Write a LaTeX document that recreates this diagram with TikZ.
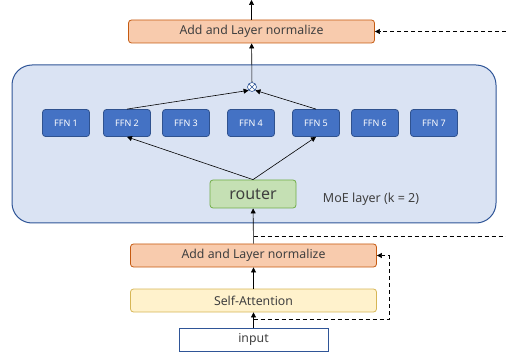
\documentclass[tikz,border=0pt]{standalone}
\usepackage{fontspec}
\setmainfont{Noto Sans}
\usetikzlibrary{arrows.meta}

\definecolor{moefill}{HTML}{DAE3F3}
\definecolor{moeline}{HTML}{2F5597}
\definecolor{ffnfill}{HTML}{4472C4}
\definecolor{ffnline}{HTML}{2F528F}
\definecolor{routerfill}{HTML}{C5E0B4}
\definecolor{routerline}{HTML}{70AD47}
\definecolor{addfill}{HTML}{F8CBAD}
\definecolor{addline}{HTML}{C55A11}
\definecolor{attfill}{HTML}{FFF2CC}
\definecolor{attline}{HTML}{D6B656}
\definecolor{textgray}{HTML}{404040}

\begin{document}
\begin{tikzpicture}[x=1pt, y=-1pt,
    arr/.style={-{Triangle[length=5pt,width=5pt]}, line width=0.6pt},
    res/.style={dashed, dash pattern=on 4pt off 3pt, line width=0.8pt},
    bar/.style={draw, rounded corners=3pt, line width=0.8pt, minimum width=246pt,
      minimum height=23pt, inner sep=0pt, text=textgray, font=\fontsize{12.3}{14}\selectfont},
    ffn/.style={draw=ffnline, fill=ffnfill, rounded corners=3pt, line width=0.8pt,
      minimum width=47pt, minimum height=27pt, inner sep=0pt, text=white,
      font=\fontsize{9}{11}\selectfont}]
  \useasboundingbox (0,0) rectangle (506,358);

  % MoE block
  \node[draw=moeline, fill=moefill, rounded corners=20pt, line width=1pt,
    minimum width=484pt, minimum height=158pt] (moe) at (254,144) {};
  \foreach \i/\x in {1/66, 2/127, 3/186, 4/251, 5/316, 6/375, 7/434} {
      \node[ffn] (ffn\i) at (\x,123) {FFN \i};
  }
  \node[draw=routerline, fill=routerfill, rounded corners=3pt, line width=0.8pt,
    minimum width=86pt, minimum height=28pt, inner sep=0pt, text=textgray,
    font=\fontsize{16}{18}\selectfont] (router) at (253,194) {router};
  \node[text=textgray, font=\fontsize{12.5}{14}\selectfont] (moelabel) at (371,199) {MoE layer (k = 2)};
  \node[circle, draw=moeline, fill=white, line width=0.6pt, minimum size=9pt, inner sep=0pt,
    path picture={\draw[moeline, line width=0.5pt]
      (path picture bounding box.south west) -- (path picture bounding box.north east)
      (path picture bounding box.north west) -- (path picture bounding box.south east);}]
    (mul) at (252,87) {};

  % layers
  \node[bar, draw=addline, fill=addfill] (norm2) at (251.5,31.5) {Add and Layer normalize};
  \node[bar, draw=addline, fill=addfill] (norm1) at (253.5,255.5) {Add and Layer normalize};
  \node[bar, draw=attline, fill=attfill] (att) at (253.5,300.5) {Self-Attention};
  \node[bar, draw=moeline, fill=white, rounded corners=0pt, minimum width=149pt] (input) at (253.5,339.5) {input};

  \coordinate (out) at (251.5,0);
  \coordinate (skip1) at (253.5,236);
  \coordinate (edge1) at (506,236);
  \coordinate (edge2) at (506,31.5);
  \coordinate (skip2) at (253.5,319);
  \coordinate (turn) at (389,319);

  % connectors
  \draw[arr] (input) -- (att);
  \draw[arr] (att) -- (norm1);
  \draw[arr] (norm1) -- (router);
  \draw[arr] (router.north) -- (ffn2.south);
  \draw[arr] (router.north) -- (ffn5.south);
  \draw[arr] (ffn2.north) -- (mul.south west);
  \draw[arr] (ffn5.north) -- (mul.south east);
  \draw[arr] (mul) -- (norm2);
  \draw[arr] (norm2) -- (out);

  \draw[res] (skip1) -- (edge1);
  \draw[res, arr] (edge2) -- (norm2);
  \draw[res, arr] (skip2) -- (turn) |- (norm1);
\end{tikzpicture}
\end{document}
